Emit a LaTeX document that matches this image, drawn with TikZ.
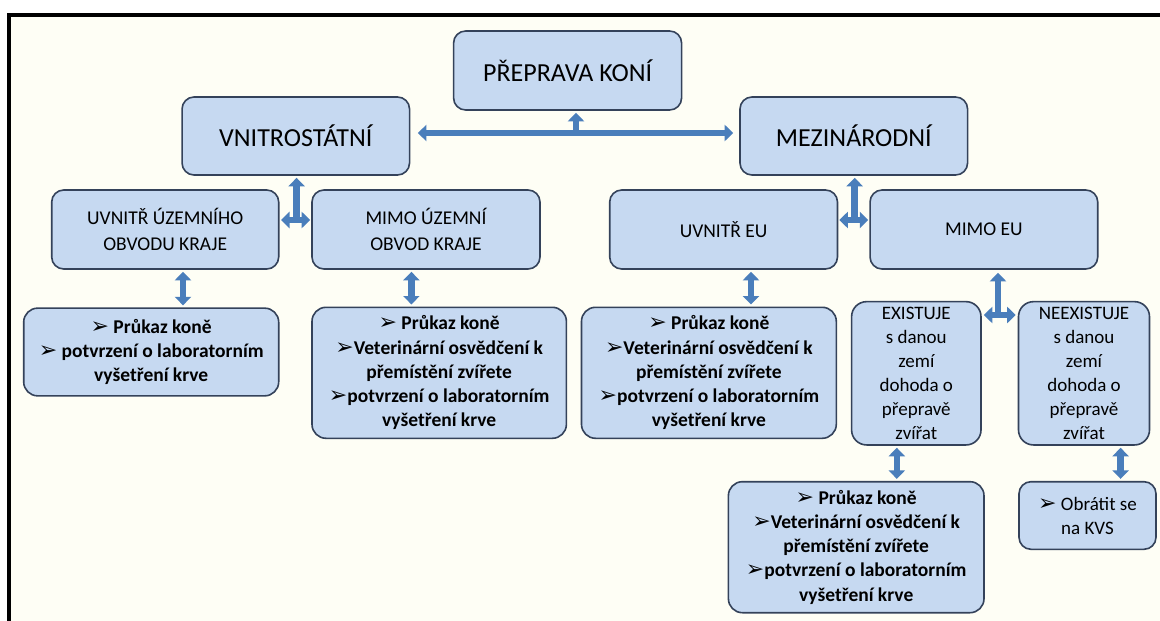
\documentclass[tikz,border=0pt]{standalone}
\usepackage{fontspec}
\setmainfont{Carlito}
\newfontfamily\dvfont{DejaVu Sans}
\usetikzlibrary{arrows.meta}
\definecolor{boxfill}{RGB}{198,217,241}
\definecolor{boxline}{RGB}{52,66,90}
\definecolor{arrc}{RGB}{74,126,187}
\definecolor{bgc}{RGB}{254,254,245}
\newcommand{\bul}{{\dvfont\fontsize{22}{22}\selectfont ➢}}
\begin{document}
\begin{tikzpicture}[x=1pt,y=-1pt,
  box/.style={draw=boxline, line width=1.6pt, fill=boxfill, rounded corners=12pt,
    inner sep=0pt, align=center},
  bigtxt/.style={font=\fontsize{26}{30}\selectfont},
  midtxt/.style={font=\fontsize{19}{24}\selectfont},
  lvltxt/.style={font=\fontsize{19.5}{26}\selectfont},
  doctxt/.style={font=\bfseries\fontsize{19.5}{24.2}\selectfont},
  tipT/.tip={Triangle[width=16pt,length=8.5pt]},
  dblarrow/.style={draw=arrc, line width=6.5pt, {tipT}-{tipT}, shorten <=2pt, shorten >=2pt},
  uparrow/.style={draw=arrc, line width=6.5pt, -{tipT}, shorten >=2pt}]
\useasboundingbox (0,0) rectangle (1160,621);
% frame and background
\fill[white] (0,0) rectangle (1160,621);
\fill[bgc] (10.5,16.5) rectangle (1160,621);
\fill[black] (7,13) rectangle (1160,16.5);
\fill[black] (7,13) rectangle (10.5,621);

% level 0 and 1
\node[box, bigtxt, minimum width=228pt, minimum height=79pt] (prep) at (567.6,70.5) {PŘEPRAVA KONÍ};
\node[box, bigtxt, minimum width=227.5pt, minimum height=78pt] (vnit) at (295.8,136) {VNITROSTÁTNÍ};
\node[box, bigtxt, minimum width=227.6pt, minimum height=78pt] (mezi) at (853.8,136) {MEZINÁRODNÍ};

% level 2
\node[box, lvltxt, minimum width=227pt, minimum height=79pt] (uz) at (165.2,229.5) {UVNITŘ ÚZEMNÍHO\\OBVODU KRAJE};
\node[box, lvltxt, minimum width=228pt, minimum height=79pt] (mz) at (426,229.5) {MIMO ÚZEMNÍ\\OBVOD KRAJE};
\node[box, lvltxt, minimum width=227.8pt, minimum height=79pt] (ueu) at (723.6,229.5) {UVNITŘ EU};
\node[box, lvltxt, minimum width=227.7pt, minimum height=79pt] (meu) at (983.9,229.5) {MIMO EU};

% documents
\node[box, doctxt, rounded corners=14pt, minimum width=255pt, minimum height=87.7pt] (d1) at (151.2,352)
  {\bul\ Průkaz koně\\\bul\ potvrzení o laboratorním\\vyšetření krve};
\node[box, doctxt, rounded corners=14pt, minimum width=254.4pt, minimum height=131pt] (d2) at (439.2,372.8)
  {\bul\ Průkaz koně\\\bul Veterinární osvědčení k\\přemístění zvířete\\\bul potvrzení o laboratorním\\vyšetření krve};
\node[box, doctxt, rounded corners=14pt, minimum width=254.8pt, minimum height=131pt] (d3) at (708.9,372.8)
  {\bul\ Průkaz koně\\\bul Veterinární osvědčení k\\přemístění zvířete\\\bul potvrzení o laboratorním\\vyšetření krve};
\node[box, midtxt, rounded corners=15pt, minimum width=129.4pt, minimum height=143.3pt] (ex) at (916.3,373.3)
  {EXISTUJE\\s danou\\zemí\\dohoda o\\přepravě\\zvířat};
\node[box, midtxt, rounded corners=15pt, minimum width=131pt, minimum height=143.3pt] (nex) at (1084,373.3)
  {NEEXISTUJE\\s danou\\zemí\\dohoda o\\přepravě\\zvířat};
\node[box, doctxt, rounded corners=14pt, minimum width=255.6pt, minimum height=131pt] (d5) at (856.2,547.2)
  {\bul\ Průkaz koně\\\bul Veterinární osvědčení k\\přemístění zvířete\\\bul potvrzení o laboratorním\\vyšetření krve};
\node[box, midtxt, rounded corners=12pt, minimum width=137pt, minimum height=67.6pt] (kvs) at (1087.5,515.5)
  {\bul\ Obrátit se\\na KVS};

% junction coordinates
\coordinate (t1) at (576,133);
\coordinate (t2) at (296.6,220);
\coordinate (t3) at (854.7,220);
\coordinate (t4) at (998,315);
\coordinate (a1) at (183,0);
\coordinate (a2) at (411.4,0);
\coordinate (a3) at (751,0);
\coordinate (a5) at (896.8,0);
\coordinate (a6) at (1120.6,0);

% T arrows
\draw[uparrow] (t1) -- (t1 |- prep.south);
\draw[dblarrow, shorten <=7.5pt, shorten >=6pt] (vnit.east |- t1) -- (mezi.west |- t1);
\draw[uparrow] (t2) -- (t2 |- vnit.south);
\draw[dblarrow, shorten <=1.5pt, shorten >=1pt] (uz.east |- t2) -- (mz.west |- t2);
\draw[uparrow] (t3) -- (t3 |- mezi.south);
\draw[dblarrow, shorten <=1pt, shorten >=1pt] (ueu.east |- t3) -- (meu.west |- t3);
\draw[uparrow, shorten >=3pt] (t4) -- (t4 |- meu.south);
\draw[dblarrow, shorten <=2pt, shorten >=2pt] (ex.east |- t4) -- (nex.west |- t4);

% vertical double arrows
\draw[dblarrow] (uz.south -| a1) -- (d1.north -| a1);
\draw[dblarrow] (mz.south -| a2) -- (d2.north -| a2);
\draw[dblarrow] (ueu.south -| a3) -- (d3.north -| a3);
\draw[dblarrow] (ex.south -| a5) -- (d5.north -| a5);
\draw[dblarrow] (nex.south -| a6) -- (kvs.north -| a6);
\end{tikzpicture}
\end{document}
